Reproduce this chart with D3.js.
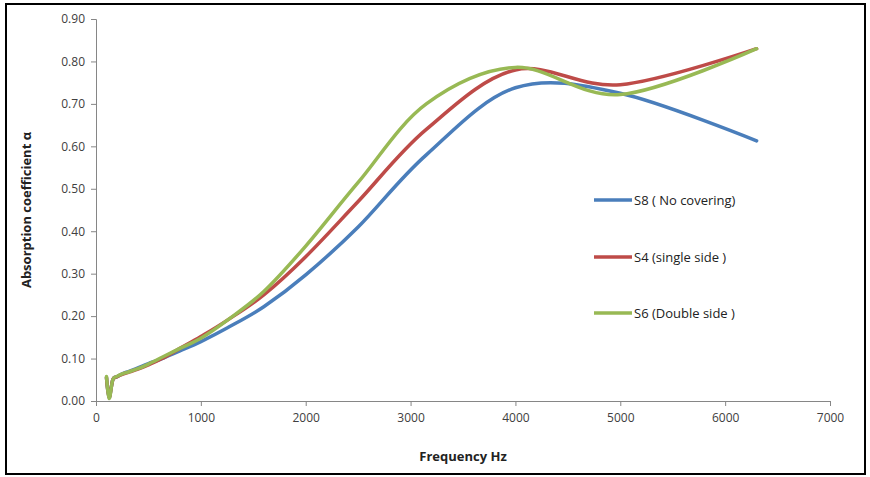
<!DOCTYPE html>
<html><head><meta charset="utf-8">
<script src="https://cdn.jsdelivr.net/npm/d3@7"></script>
<style>
body{margin:0;background:#fff;}
svg{display:block;}
</style></head>
<body>
<svg id="chart" width="870" height="477"></svg>
<script>
const frequencies = [100,125,160,200,250,315,400,500,630,800,1000,1250,1600,2000,2500,3150,4000,5000,6300];
const seriesNames = ["S8 ( No covering)","S4 (single side  )","S6 (Double side  )"];
const seriesColors = ["#4a7ebb","#be4b48","#98b954"];
const s8 = [0.055,0.008,0.05,0.057,0.064,0.07,0.078,0.088,0.1,0.118,0.14,0.172,0.222,0.297,0.41,0.58,0.738,0.725,0.613];
const s4 = [0.055,0.008,0.05,0.057,0.063,0.068,0.075,0.085,0.1,0.124,0.152,0.19,0.25,0.34,0.47,0.64,0.78,0.745,0.83];
const s6 = [0.058,0.006,0.05,0.058,0.064,0.069,0.076,0.087,0.103,0.124,0.148,0.19,0.258,0.365,0.515,0.70,0.786,0.722,0.83];
const yTicks = [0,0.1,0.2,0.3,0.4,0.5,0.6,0.7,0.8,0.9];
const xTicks = [0,1000,2000,3000,4000,5000,6000,7000];

const svg = d3.select("#chart");
svg.append("rect").attr("x",6).attr("y",4).attr("width",859).attr("height",470)
  .attr("fill","#fff").attr("stroke","#000").attr("stroke-width",2);

const x = d3.scaleLinear().domain([0,7000]).range([96,830]);
const y = d3.scaleLinear().domain([0,0.9]).range([401,19]);

const font = "Open Sans, Liberation Sans, sans-serif";
const gy = svg.append("g").attr("transform","translate(96,0)")
  .call(d3.axisLeft(y).tickValues(yTicks).tickFormat(d3.format(".2f")).tickSize(5).tickPadding(6));
const gx = svg.append("g").attr("transform","translate(0,401)")
  .call(d3.axisBottom(x).tickValues(xTicks).tickFormat(d3.format("d")).tickSize(5).tickPadding(7));
[gx,gy].forEach(g=>{
  g.select(".domain").attr("stroke","#868686");
  g.selectAll(".tick line").attr("stroke","#868686");
  g.selectAll(".tick text").attr("fill","#404040").style("font-family",font).style("font-size","12px");
});

svg.append("text").attr("x",463).attr("y",461).attr("text-anchor","middle")
  .style("font-family",font).style("font-size","13px").style("font-weight","bold").attr("fill","#222")
  .text("Frequency Hz");
svg.append("text").attr("transform","translate(31,210) rotate(-90)").attr("text-anchor","middle")
  .style("font-family",font).style("font-size","13px").style("font-weight","bold").attr("fill","#222")
  .text("Absorption coefficient α");

const line = d3.line().x((d,i)=>x(frequencies[i])).y(d=>y(d)).curve(d3.curveCardinal.tension(0));
const allSeries = [s8,s4,s6];
allSeries.forEach((s,k)=>{
  svg.append("path").attr("d",line(s)).attr("fill","none").attr("stroke",seriesColors[k])
    .attr("stroke-width",3.5).attr("stroke-linecap","round").attr("stroke-linejoin","round");
});

const legY = [200,257,313];
seriesNames.forEach((n,k)=>{
  svg.append("line").attr("x1",594).attr("x2",632).attr("y1",legY[k]).attr("y2",legY[k])
    .attr("stroke",seriesColors[k]).attr("stroke-width",3.5);
  svg.append("text").attr("x",634).attr("y",legY[k]+5).style("font-family",font).style("font-size","13px")
    .attr("fill","#222").text(n);
});
</script>
</body></html>
